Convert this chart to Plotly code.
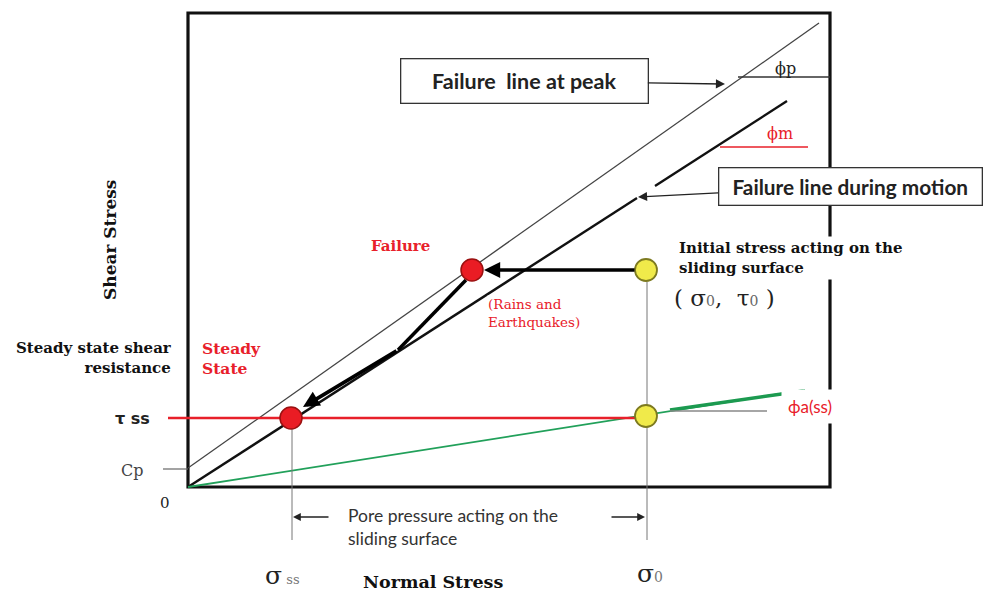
import plotly.graph_objects as go

SERIF = "DejaVu Serif"
SANS = "Lato"

# ---- data (diagram units: origin = stress origin) ----
frame_x = [0, 642]
frame_y = [0, 474]

peak_x = [0, 631]
peak_y = [19, 464]

motion_x = [0, 449, None, 467, 599]
motion_y = [0, 289, None, 301, 386]

green_x = [0, 617]
green_y = [0, 97]
green_thick_x = [482, 615]
green_thick_y = [77, 96]

tau_ss = 69
sigma_ss = 104
sigma_0 = 459
tau_0 = 217
cp = 18

red_line_x = [-20, sigma_0]
red_line_y = [tau_ss, tau_ss]

cp_tick_x = [-25, 0]
cp_tick_y = [cp, cp]

phi_a_ref_x = [482, 579]
phi_a_ref_y = [76, 76]

phi_p_ref_x = [550, 642]
phi_p_ref_y = [410, 410]

phi_m_ref_x = [532, 620]
phi_m_ref_y = [340, 340]

vline_ss_x = [sigma_ss, sigma_ss]
vline_ss_y = [58, -53]
vline_0_x = [sigma_0, sigma_0]
vline_0_y = [205, -53]

failure_pt = (284, 217)
initial_pt = (sigma_0 - 1, tau_0)
steady_pt = (103, tau_ss)
lower_yellow = (sigma_0 - 1, 71)

path_x = [278, 210]
path_y = [207, 137]
path_tip = (115, 80)

fig = go.Figure()

def line(x, y, color, width):
    fig.add_trace(go.Scatter(x=x, y=y, mode="lines",
                             line=dict(color=color, width=width),
                             hoverinfo="skip", showlegend=False))

line(peak_x, peak_y, "#444444", 1.3)
line(motion_x, motion_y, "#111111", 2.4)
line(green_x, green_y, "#21a05a", 1.8)
line(green_thick_x, green_thick_y, "#1c9a50", 3.5)
line(red_line_x, red_line_y, "#e8202a", 2.6)
line(cp_tick_x, cp_tick_y, "#666666", 1.2)
line(phi_a_ref_x, phi_a_ref_y, "#888888", 1.5)
line(phi_p_ref_x, phi_p_ref_y, "#333333", 1.4)
line(phi_m_ref_x, phi_m_ref_y, "#e8202a", 1.6)
line(vline_ss_x, vline_ss_y, "#777777", 1)
line(vline_0_x, vline_0_y, "#777777", 1)
line(path_x, path_y, "#000000", 3.5)

# markers
fig.add_trace(go.Scatter(
    x=[failure_pt[0], steady_pt[0]], y=[failure_pt[1], steady_pt[1]],
    mode="markers",
    marker=dict(size=22, color="#ea1c24", line=dict(color="#9a1010", width=1.5)),
    hoverinfo="skip", showlegend=False))
fig.add_trace(go.Scatter(
    x=[initial_pt[0], lower_yellow[0]], y=[initial_pt[1], lower_yellow[1]],
    mode="markers",
    marker=dict(size=22, color="#f0ea4a", line=dict(color="#7d7a20", width=1.8)),
    hoverinfo="skip", showlegend=False))

# frame
fig.add_shape(type="rect", x0=frame_x[0], x1=frame_x[1], y0=frame_y[0], y1=frame_y[1],
              line=dict(color="#111111", width=3.2), layer="below")

ann = []

def arrow(tip, tail, width, head=2, size=1.0, color="#000000"):
    ann.append(dict(x=tip[0], y=tip[1], ax=tail[0], ay=tail[1],
                    xref="x", yref="y", axref="x", ayref="y", text="",
                    showarrow=True, arrowhead=head, arrowsize=size,
                    arrowwidth=width, arrowcolor=color))

arrow((296, tau_0), (448, tau_0), 3.6, head=2, size=0.9)
arrow(path_tip, (path_x[1], path_y[1]), 3.6, head=2, size=0.9)
arrow((105, -30), (142, -30), 1.3, head=2, size=1.2, color="#222222")
arrow((457, -30), (422, -30), 1.3, head=2, size=1.2, color="#222222")

def text(x, y, t, size, color="#111111", family=SERIF, xanchor="center",
         align="center", bg=None, **kw):
    d = dict(x=x, y=y, xref="x", yref="y", text=t, showarrow=False,
             font=dict(size=size, color=color, family=family),
             xanchor=xanchor, yanchor="middle", align=align)
    if bg:
        d["bgcolor"] = bg
    d.update(kw)
    ann.append(d)

# boxes with arrows
ann.append(dict(x=537, y=403, ax=336, ay=406, xref="x", yref="y", axref="x", ayref="y",
                text="<b>Failure  line at peak</b>", showarrow=True, arrowhead=2,
                arrowsize=1.3, arrowwidth=1.4, arrowcolor="#222222",
                font=dict(size=21.5, family=SANS, color="#222222"),
                bgcolor="white", bordercolor="#333333", borderwidth=1.3,
                width=244, height=41, borderpad=1))
ann.append(dict(x=450, y=290, ax=662, ay=301, xref="x", yref="y", axref="x", ayref="y",
                text="<b>Failure line during motion</b>", showarrow=True, arrowhead=2,
                arrowsize=1.3, arrowwidth=1.4, arrowcolor="#222222",
                font=dict(size=20.8, family=SANS, color="#222222"),
                bgcolor="white", bordercolor="#333333", borderwidth=1.3,
                width=260, height=34, borderpad=1))

text(597, 419, "ϕp", 16, color="#222222")
text(592, 354, "ϕm", 16, color="#e8202a")
text(622, 81, "ϕa(ss)", 17, color="#e8202a", family=SANS, bg="white", borderpad=6)

text(212, 241, "<b>Failure</b>", 15, color="#e8202a")
text(299, 174, "(Rains and<br>Earthquakes)", 13.5, color="#e8202a", xanchor="left",
     align="left", bg="white", borderpad=0)
text(488, 229, "<b>Initial stress acting on the<br>sliding surface</b>", 15,
     xanchor="left", align="left", bg="white", borderpad=2)
text(483, 189, "( σ<span style='font-size:14px;color:#666'>0</span>,  τ<span style='font-size:14px;color:#666'>0</span> )",
     23, color="#222222", xanchor="left", bg="white", borderpad=2)

text(-14, 129, "<b>Steady state shear<br>resistance</b>", 15, xanchor="right", align="right")
text(12, 129, "<b>Steady<br>State</b>", 15.5, color="#e8202a", xanchor="left", align="left")

text(-56, 69, "<b>τ ss</b>", 16, color="#222222", family="DejaVu Sans")
text(-56, 17, "Cp", 16, color="#444444")
text(-23, -16, "0", 15, color="#222222")

ann.append(dict(x=-78, y=247, xref="x", yref="y", text="<b>Shear Stress</b>",
                showarrow=False, textangle=-90,
                font=dict(size=17, family=SERIF, color="#111111")))
text(245, -95, "<b>Normal Stress</b>", 17.5)
text(94, -88, "σ<span style='font-size:13px;color:#777'> ss</span>", 25, color="#222222")
text(462, -86, "σ<span style='font-size:14px;color:#777'>0</span>", 25, color="#222222")
text(158, -40, "Pore pressure acting on the<br>sliding surface", 17.5, color="#333333",
     family=SANS, xanchor="left", align="left")

fig.update_layout(
    width=990, height=594,
    margin=dict(l=0, r=0, t=0, b=0),
    paper_bgcolor="white", plot_bgcolor="white",
    xaxis=dict(range=[-188, 802], visible=False, fixedrange=True),
    yaxis=dict(range=[-107, 487], visible=False, fixedrange=True),
    annotations=ann,
    showlegend=False,
)

# remove the default 8px page margin so the 990x594 figure fills the window
fig.write_html("out.html",
               config={"displayModeBar": False},
               post_script="document.body.style.margin='0';document.body.style.overflow='hidden';")
